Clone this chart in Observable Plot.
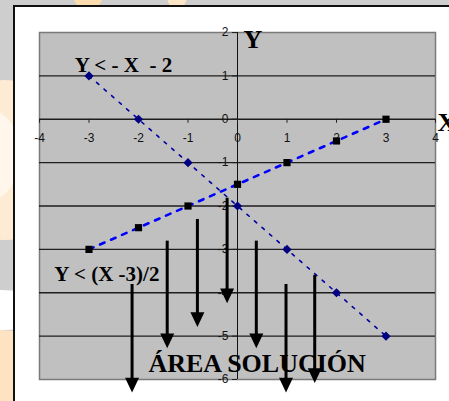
<!DOCTYPE html>
<html>
<head>
<meta charset="utf-8">
<script src="https://cdn.jsdelivr.net/npm/d3@7"></script>
<script src="https://cdn.jsdelivr.net/npm/@observablehq/plot@0.6"></script>
<style>
  html, body { margin: 0; padding: 0; }
  body { width: 449px; height: 401px; overflow: hidden; position: relative; background: #cecece; font-family: "Liberation Sans", Arial, sans-serif; }
  .blob { position: absolute; border-radius: 50%; }
  #panel { position: absolute; left: 13px; top: 5px; width: 460px; height: 420px; background: #fff; border-left: 2px solid #111; border-top: 2px solid #111; }
  #chart { position: absolute; left: 0; top: 0; }
</style>
</head>
<body>
<div class="blob" style="left:-70px; top:80px; width:150px; height:160px; background:#fdebd4;"></div>
<div class="blob" style="left:-40px; top:110px; width:60px; height:90px; background:#fff6ec;"></div>
<div class="blob" style="left:-60px; top:290px; width:120px; height:40px; background:#ffffff;"></div>
<div class="blob" style="left:-80px; top:330px; width:160px; height:160px; background:#fde3c2;"></div>
<div class="blob" style="left:70px; top:-40px; width:36px; height:50px; background:#fddcb0;"></div>
<div class="blob" style="left:165px; top:-40px; width:24px; height:50px; background:#fde6c6;"></div>
<div id="panel"></div>
<div id="chart"></div>
<script>
// Tick values
const xTicks = [-4, -3, -2, -1, 0, 1, 2, 3, 4];
const yTicks = [2, 1, 0, -1, -2, -3, -4, -5, -6];
const gridY = [1, 0, -1, -2, -3, -4, -5];

// Series: Y = -X - 2 and Y = (X - 3)/2
const xs = [-3, -2, -1, 0, 1, 2, 3];
const line1Y = [1, 0, -1, -2, -3, -4, -5];
const line2Y = [-3, -2.5, -2, -1.5, -1, -0.5, 0];

// Arrows (solution area): x, start y, tip y
const arrowX = [-2.13, -1.42, -0.81, -0.21, 0.38, 0.98, 1.56];
const arrowTop = [-3.81, -2.81, -2.31, -1.82, -2.81, -3.81, -3.6];
const arrowTip = [-6.3, -5.28, -4.79, -4.24, -5.28, -6.3, -6.08];

// Labels
const labels = [
  {x: -3.29, y: 1.08, text: "Y < - X \u00a0- 2", size: 21},
  {x: -3.70, y: -3.74, text: "Y < (X -3)/2", size: 21},
  {x: -1.80, y: -5.83, text: "ÁREA SOLUCIÓN", size: 26},
  {x: 0.12, y: 1.65, text: "Y", size: 26},
  {x: 4.04, y: -0.28, text: "X", size: 26}
];

const pts1 = xs.map((x, i) => ({x, y: line1Y[i]}));
const pts2 = xs.map((x, i) => ({x, y: line2Y[i]}));
const arrows = arrowX.map((x, i) => ({x, y1: arrowTop[i], y2: arrowTip[i]}));

const rOf = size => Math.sqrt(size / Math.PI);
const diamondSym = {draw(ctx, size) { const r = rOf(size); ctx.moveTo(0, -r); ctx.lineTo(r, 0); ctx.lineTo(0, r); ctx.lineTo(-r, 0); ctx.closePath(); }};
const squareSym = {draw(ctx, size) { const r = rOf(size); ctx.rect(-r, -r, 2 * r, 2 * r); }};
const downTri = {draw(ctx, size) { const r = rOf(size); ctx.moveTo(-r, -2.1 * r); ctx.lineTo(r, -2.1 * r); ctx.lineTo(0, 0); ctx.closePath(); }};

const serif = "'Liberation Serif', 'Times New Roman', serif";
const sans = "'Liberation Sans', Arial, sans-serif";

const chart = Plot.plot({
  width: 449,
  height: 401,
  marginLeft: 39,
  marginRight: 14,
  marginTop: 32,
  marginBottom: 22,
  style: {background: "transparent", overflow: "visible"},
  x: {domain: [-4, 4], axis: null},
  y: {domain: [-6, 2], axis: null},
  marks: [
    Plot.frame({fill: "#c0c0c0", stroke: "#7a7a7a", strokeWidth: 1.5}),
    Plot.ruleY(gridY, {y: d => d, stroke: "#1e1e1e", strokeWidth: 1.4}),
    Plot.ruleX([0], {x: d => d, y1: 2, y2: -6, stroke: "#111", strokeWidth: 1}),
    Plot.ruleX(xTicks, {x: d => d, y1: 0, y2: 0, insetBottom: -4, stroke: "#222", strokeWidth: 1}),
    Plot.ruleY(yTicks, {y: d => d, x1: 0, x2: 0, insetLeft: -5, stroke: "#222", strokeWidth: 1}),
    Plot.text(xTicks, {x: d => d, y: 0, dy: 19, text: d => String(d), fontFamily: sans, fontSize: 12, fill: "#111"}),
    Plot.text(yTicks, {x: 0, y: d => d, dx: -9, textAnchor: "end", text: d => String(d), fontFamily: sans, fontSize: 12, fill: "#111"}),
    Plot.line(pts1, {x: "x", y: "y", stroke: "#0000a0", strokeWidth: 1.6, strokeDasharray: "3,7"}),
    Plot.line(pts2, {x: "x", y: "y", stroke: "#0000ff", strokeWidth: 2.6, strokeDasharray: "5,7"}),
    Plot.dot(pts1, {x: "x", y: "y", symbol: diamondSym, r: 4.6, fill: "#000080", stroke: "none"}),
    Plot.dot(pts2, {x: "x", y: "y", symbol: squareSym, r: 3.6, fill: "#000", stroke: "none"}),
    Plot.ruleX(arrows, {x: "x", y1: "y1", y2: "y2", insetBottom: 10, stroke: "#000", strokeWidth: 3}),
    Plot.dot(arrows, {x: "x", y: "y2", symbol: downTri, r: 7, fill: "#000", stroke: "none"}),
    Plot.text(labels, {x: "x", y: "y", text: "text", fontSize: "size", textAnchor: "start", lineAnchor: "bottom", fontFamily: serif, fontWeight: "bold", fill: "#000"})
  ]
});
document.getElementById("chart").appendChild(chart);
</script>
</body>
</html>
